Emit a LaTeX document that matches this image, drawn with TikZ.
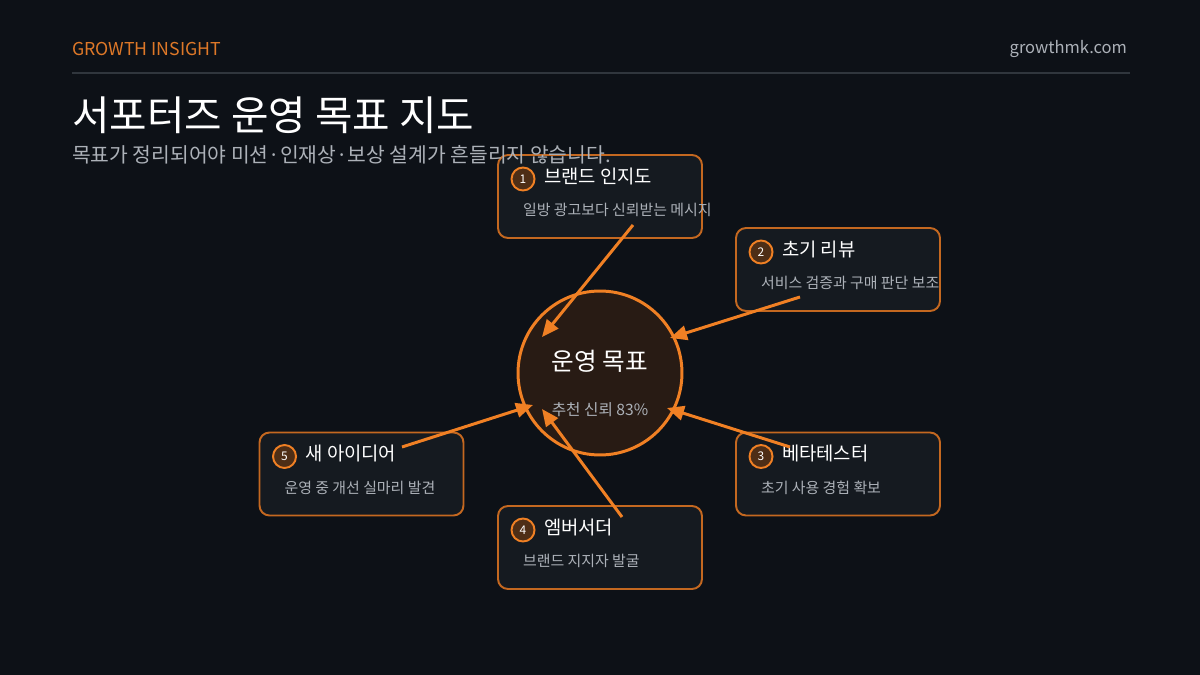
\documentclass[tikz,border=0pt]{standalone}
\usepackage{fontspec}
\setmainfont{Noto Sans CJK KR}
\usetikzlibrary{arrows.meta,positioning}
\definecolor{bgdark}{RGB}{13,17,23}
\definecolor{boxfill}{RGB}{21,26,32}
\definecolor{boxline}{RGB}{196,104,32}
\definecolor{accent}{RGB}{240,128,36}
\definecolor{goalfill}{RGB}{40,27,20}
\definecolor{dotfill}{RGB}{78,46,22}
\definecolor{rulegray}{RGB}{48,54,61}
\definecolor{notegray}{RGB}{172,177,184}
\definecolor{headorange}{RGB}{222,120,40}
\begin{document}
\begin{tikzpicture}[x=0.02cm,y=-0.02cm,inner sep=0pt,outer sep=0pt,
supbox/.style={draw=boxline,fill=boxfill,rectangle,rounded corners=0.2cm,line width=1.1pt,minimum width=4.08cm,minimum height=1.66cm},
numdot/.style={draw=accent,fill=dotfill,circle,line width=1.1pt,minimum size=0.46cm,text=white,font=\fontsize{6.8}{7}\selectfont},
boxtitle/.style={anchor=west,text=white,font=\fontsize{10.7}{12}\selectfont},
boxnote/.style={anchor=west,text=notegray,font=\fontsize{8.5}{10}\selectfont},
goalarrow/.style={draw=accent,line width=1.7pt,-{Triangle[length=0.34cm,width=0.29cm]}}]
\fill[bgdark] (0,0) rectangle (1200,675);
% header
\draw (72,49) node[anchor=west,text=headorange,font=\fontsize{10.1}{12}\selectfont] (brand) {GROWTH INSIGHT};
\draw (1127,49) node[anchor=east,text=notegray,font=\fontsize{9.4}{11}\selectfont] (site) {growthmk.com};
\draw[rulegray,line width=1.1pt] (72,73) -- (1130,73);
\draw (72,115) node[anchor=west,text=white,font=\fontsize{23.2}{26}\selectfont] (title) {서포터즈 운영 목표 지도};
% boxes
\draw (600,196.5) node[supbox] (b1) {};
\draw ([shift={(25,24)}]b1.north west) node[numdot] (n1) {1};
\draw ([shift={(46,21)}]b1.north west) node[boxtitle] (h1) {브랜드 인지도};
\draw ([shift={(25,55)}]b1.north west) node[boxnote] (d1) {일방 광고보다 신뢰받는 메시지};
\draw (838,269.5) node[supbox] (b2) {};
\draw ([shift={(25,24)}]b2.north west) node[numdot] (n2) {2};
\draw ([shift={(46,21)}]b2.north west) node[boxtitle] (h2) {초기 리뷰};
\draw ([shift={(25,55)}]b2.north west) node[boxnote] (d2) {서비스 검증과 구매 판단 보조};
\draw (838,474) node[supbox] (b3) {};
\draw ([shift={(25,24)}]b3.north west) node[numdot] (n3) {3};
\draw ([shift={(46,21)}]b3.north west) node[boxtitle] (h3) {베타테스터};
\draw ([shift={(25,55)}]b3.north west) node[boxnote] (d3) {초기 사용 경험 확보};
\draw (600,547.5) node[supbox] (b4) {};
\draw ([shift={(25,24)}]b4.north west) node[numdot] (n4) {4};
\draw ([shift={(46,21)}]b4.north west) node[boxtitle] (h4) {엠버서더};
\draw ([shift={(25,55)}]b4.north west) node[boxnote] (d4) {브랜드 지지자 발굴};
\draw (361.5,474) node[supbox] (b5) {};
\draw ([shift={(25,24)}]b5.north west) node[numdot] (n5) {5};
\draw ([shift={(46,21)}]b5.north west) node[boxtitle] (h5) {새 아이디어};
\draw ([shift={(25,55)}]b5.north west) node[boxnote] (d5) {운영 중 개선 실마리 발견};
% subtitle sits over box 1
\draw (72,155) node[anchor=west,text=notegray,font=\fontsize{11.6}{13}\selectfont] (subtitle) {목표가 정리되어야 미션·인재상·보상 설계가 흔들리지 않습니다.};
% goal
\draw (600,373) node[draw=accent,fill=goalfill,circle,line width=1.7pt,minimum size=3.28cm] (goal) {};
\draw (600,361) node[text=white,font=\fontsize{14}{16}\selectfont] (goaltitle) {운영 목표};
\draw (600,410) node[text=notegray,font=\fontsize{8.9}{10}\selectfont] (goalnote) {추천 신뢰 83\%};
% arrow ends
\coordinate (s1) at ([shift={(33,28.5)}]b1.center);
\coordinate (s2) at ([shift={(-38,27.5)}]b2.center);
\coordinate (s3) at ([shift={(-48,-27)}]b3.center);
\coordinate (s4) at ([shift={(22,-30.5)}]b4.center);
\coordinate (s5) at ([shift={(40.5,-27)}]b5.center);
\coordinate (t1) at ([shift={(-58,-36)}]goal.center);
\coordinate (t2) at ([shift={(70,-35)}]goal.center);
\coordinate (t3) at ([shift={(67,35)}]goal.center);
\coordinate (t4) at ([shift={(-58,36)}]goal.center);
\coordinate (t5) at ([shift={(-67,32)}]goal.center);
\draw[goalarrow] (s1) -- (t1);
\draw[goalarrow] (s2) -- (t2);
\draw[goalarrow] (s3) -- (t3);
\draw[goalarrow] (s4) -- (t4);
\draw[goalarrow] (s5) -- (t5);
\end{tikzpicture}
\end{document}
